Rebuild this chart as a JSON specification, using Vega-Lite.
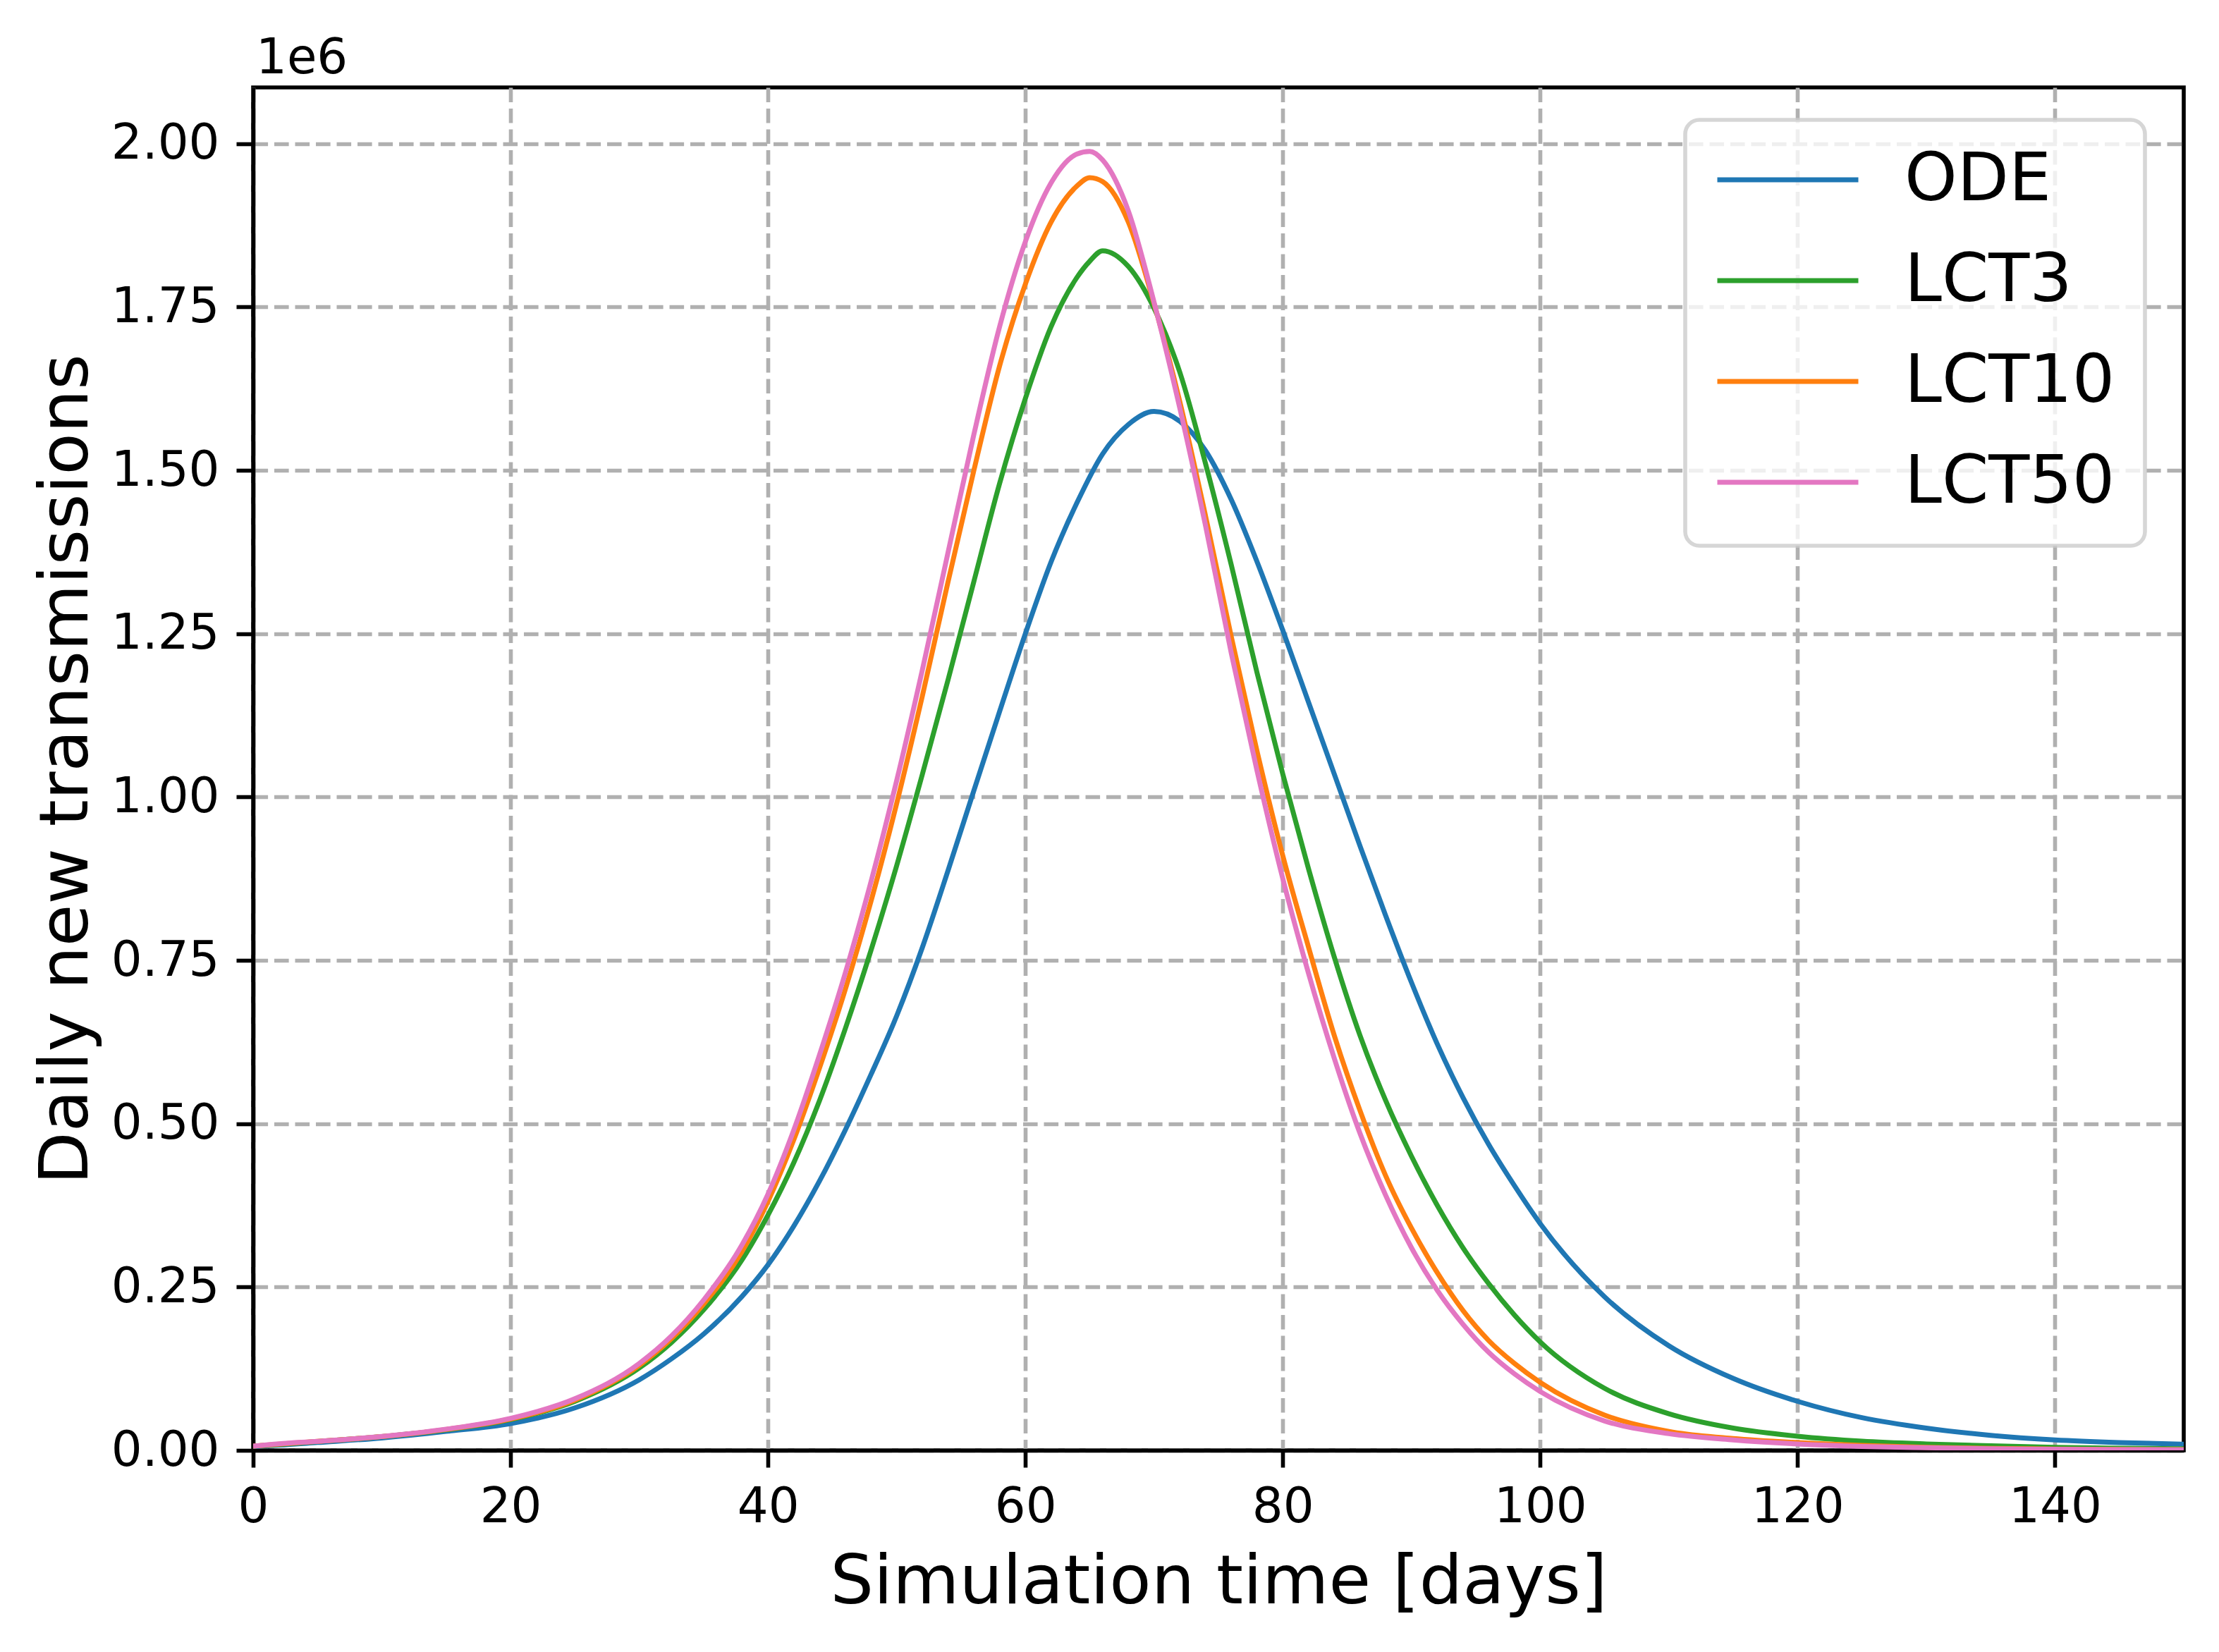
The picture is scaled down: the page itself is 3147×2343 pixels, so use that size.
{
  "$schema": "https://vega.github.io/schema/vega-lite/v6.json",
  "autosize": {"type": "none"},
  "padding": {"left": 359, "top": 124, "right": 50, "bottom": 286},
  "width": 2738,
  "height": 1933,
  "background": "white",
  "config": {
    "font": "DejaVu Sans",
    "view": {"stroke": "black", "strokeWidth": 5.6}
  },
  "title": {
    "text": "1e6",
    "anchor": "start",
    "frame": "group",
    "baseline": "alphabetic",
    "offset": 17,
    "dx": 4,
    "dy": 66,
    "fontSize": 69,
    "fontWeight": "normal",
    "color": "black"
  },
  "datasets": {
    "curves": [
      {"day": 0, "model": "ODE", "value": 6000}, {"day": 2, "model": "ODE", "value": 8000}, {"day": 5, "model": "ODE", "value": 12000}, {"day": 10, "model": "ODE", "value": 19000}, {"day": 15, "model": "ODE", "value": 29000}, {"day": 20, "model": "ODE", "value": 41000}, {"day": 25, "model": "ODE", "value": 65000}, {"day": 30, "model": "ODE", "value": 108000}, {"day": 32.5, "model": "ODE", "value": 140000}, {"day": 35, "model": "ODE", "value": 178000}, {"day": 38, "model": "ODE", "value": 236000}, {"day": 40, "model": "ODE", "value": 284000}, {"day": 42, "model": "ODE", "value": 343000}, {"day": 44, "model": "ODE", "value": 412000}, {"day": 46, "model": "ODE", "value": 490000}, {"day": 48, "model": "ODE", "value": 575000}, {"day": 50, "model": "ODE", "value": 665000}, {"day": 52, "model": "ODE", "value": 770000}, {"day": 54, "model": "ODE", "value": 888000}, {"day": 56, "model": "ODE", "value": 1010000}, {"day": 58, "model": "ODE", "value": 1131000}, {"day": 60, "model": "ODE", "value": 1250000}, {"day": 62, "model": "ODE", "value": 1360000}, {"day": 64, "model": "ODE", "value": 1450000}, {"day": 66, "model": "ODE", "value": 1525000}, {"day": 68, "model": "ODE", "value": 1570000}, {"day": 70, "model": "ODE", "value": 1590000}, {"day": 72, "model": "ODE", "value": 1575000}, {"day": 74, "model": "ODE", "value": 1530000}, {"day": 76, "model": "ODE", "value": 1455000}, {"day": 78, "model": "ODE", "value": 1360000}, {"day": 80, "model": "ODE", "value": 1255000}, {"day": 82, "model": "ODE", "value": 1145000}, {"day": 84, "model": "ODE", "value": 1035000}, {"day": 86, "model": "ODE", "value": 925000}, {"day": 88, "model": "ODE", "value": 818000}, {"day": 90, "model": "ODE", "value": 716000}, {"day": 92, "model": "ODE", "value": 622000}, {"day": 94, "model": "ODE", "value": 540000}, {"day": 96, "model": "ODE", "value": 468000}, {"day": 98, "model": "ODE", "value": 405000}, {"day": 100, "model": "ODE", "value": 347000}, {"day": 105, "model": "ODE", "value": 235000}, {"day": 110, "model": "ODE", "value": 160000}, {"day": 115, "model": "ODE", "value": 110000}, {"day": 120, "model": "ODE", "value": 75000}, {"day": 125, "model": "ODE", "value": 50000}, {"day": 130, "model": "ODE", "value": 34000}, {"day": 135, "model": "ODE", "value": 23000}, {"day": 140, "model": "ODE", "value": 16000}, {"day": 145, "model": "ODE", "value": 12000}, {"day": 150, "model": "ODE", "value": 9500},
      {"day": 0, "model": "LCT3", "value": 6500}, {"day": 2, "model": "LCT3", "value": 9000}, {"day": 5, "model": "LCT3", "value": 13500}, {"day": 10, "model": "LCT3", "value": 21000}, {"day": 15, "model": "LCT3", "value": 31500}, {"day": 20, "model": "LCT3", "value": 47000}, {"day": 25, "model": "LCT3", "value": 75000}, {"day": 30, "model": "LCT3", "value": 126000}, {"day": 32.5, "model": "LCT3", "value": 165000}, {"day": 35, "model": "LCT3", "value": 215000}, {"day": 38, "model": "LCT3", "value": 292000}, {"day": 40, "model": "LCT3", "value": 360000}, {"day": 42, "model": "LCT3", "value": 440000}, {"day": 44, "model": "LCT3", "value": 535000}, {"day": 46, "model": "LCT3", "value": 645000}, {"day": 48, "model": "LCT3", "value": 765000}, {"day": 50, "model": "LCT3", "value": 895000}, {"day": 52, "model": "LCT3", "value": 1035000}, {"day": 54, "model": "LCT3", "value": 1180000}, {"day": 56, "model": "LCT3", "value": 1330000}, {"day": 58, "model": "LCT3", "value": 1480000}, {"day": 60, "model": "LCT3", "value": 1610000}, {"day": 62, "model": "LCT3", "value": 1720000}, {"day": 64, "model": "LCT3", "value": 1795000}, {"day": 65, "model": "LCT3", "value": 1820000}, {"day": 66, "model": "LCT3", "value": 1836000}, {"day": 68, "model": "LCT3", "value": 1812000}, {"day": 70, "model": "LCT3", "value": 1748000}, {"day": 72, "model": "LCT3", "value": 1650000}, {"day": 74, "model": "LCT3", "value": 1510000}, {"day": 76, "model": "LCT3", "value": 1355000}, {"day": 78, "model": "LCT3", "value": 1190000}, {"day": 80, "model": "LCT3", "value": 1035000}, {"day": 82, "model": "LCT3", "value": 890000}, {"day": 84, "model": "LCT3", "value": 755000}, {"day": 86, "model": "LCT3", "value": 635000}, {"day": 88, "model": "LCT3", "value": 535000}, {"day": 90, "model": "LCT3", "value": 450000}, {"day": 92, "model": "LCT3", "value": 375000}, {"day": 94, "model": "LCT3", "value": 310000}, {"day": 96, "model": "LCT3", "value": 255000}, {"day": 98, "model": "LCT3", "value": 207000}, {"day": 100, "model": "LCT3", "value": 166000}, {"day": 105, "model": "LCT3", "value": 95000}, {"day": 110, "model": "LCT3", "value": 56000}, {"day": 115, "model": "LCT3", "value": 34000}, {"day": 120, "model": "LCT3", "value": 21600}, {"day": 125, "model": "LCT3", "value": 14000}, {"day": 130, "model": "LCT3", "value": 9800}, {"day": 135, "model": "LCT3", "value": 7000}, {"day": 140, "model": "LCT3", "value": 4700}, {"day": 145, "model": "LCT3", "value": 3300}, {"day": 150, "model": "LCT3", "value": 2400},
      {"day": 0, "model": "LCT10", "value": 6500}, {"day": 2, "model": "LCT10", "value": 9500}, {"day": 5, "model": "LCT10", "value": 13700}, {"day": 10, "model": "LCT10", "value": 21000}, {"day": 15, "model": "LCT10", "value": 32000}, {"day": 20, "model": "LCT10", "value": 48000}, {"day": 25, "model": "LCT10", "value": 77000}, {"day": 30, "model": "LCT10", "value": 130000}, {"day": 32.5, "model": "LCT10", "value": 171000}, {"day": 35, "model": "LCT10", "value": 224000}, {"day": 38, "model": "LCT10", "value": 305000}, {"day": 40, "model": "LCT10", "value": 381000}, {"day": 42, "model": "LCT10", "value": 475000}, {"day": 44, "model": "LCT10", "value": 585000}, {"day": 46, "model": "LCT10", "value": 705000}, {"day": 48, "model": "LCT10", "value": 840000}, {"day": 50, "model": "LCT10", "value": 990000}, {"day": 52, "model": "LCT10", "value": 1155000}, {"day": 54, "model": "LCT10", "value": 1330000}, {"day": 56, "model": "LCT10", "value": 1500000}, {"day": 58, "model": "LCT10", "value": 1660000}, {"day": 60, "model": "LCT10", "value": 1785000}, {"day": 62, "model": "LCT10", "value": 1880000}, {"day": 64, "model": "LCT10", "value": 1935000}, {"day": 65, "model": "LCT10", "value": 1948000}, {"day": 66, "model": "LCT10", "value": 1942000}, {"day": 68, "model": "LCT10", "value": 1880000}, {"day": 70, "model": "LCT10", "value": 1755000}, {"day": 72, "model": "LCT10", "value": 1605000}, {"day": 74, "model": "LCT10", "value": 1430000}, {"day": 76, "model": "LCT10", "value": 1245000}, {"day": 78, "model": "LCT10", "value": 1070000}, {"day": 80, "model": "LCT10", "value": 910000}, {"day": 82, "model": "LCT10", "value": 770000}, {"day": 84, "model": "LCT10", "value": 635000}, {"day": 86, "model": "LCT10", "value": 520000}, {"day": 88, "model": "LCT10", "value": 420000}, {"day": 90, "model": "LCT10", "value": 340000}, {"day": 92, "model": "LCT10", "value": 272000}, {"day": 94, "model": "LCT10", "value": 214000}, {"day": 96, "model": "LCT10", "value": 168000}, {"day": 98, "model": "LCT10", "value": 133000}, {"day": 100, "model": "LCT10", "value": 104000}, {"day": 105, "model": "LCT10", "value": 54000}, {"day": 110, "model": "LCT10", "value": 29000}, {"day": 115, "model": "LCT10", "value": 18000}, {"day": 120, "model": "LCT10", "value": 11800}, {"day": 125, "model": "LCT10", "value": 7500}, {"day": 130, "model": "LCT10", "value": 4700}, {"day": 135, "model": "LCT10", "value": 3000}, {"day": 140, "model": "LCT10", "value": 2000}, {"day": 145, "model": "LCT10", "value": 1400}, {"day": 150, "model": "LCT10", "value": 1000},
      {"day": 0, "model": "LCT50", "value": 6500}, {"day": 2, "model": "LCT50", "value": 10000}, {"day": 5, "model": "LCT50", "value": 13800}, {"day": 10, "model": "LCT50", "value": 21300}, {"day": 15, "model": "LCT50", "value": 32500}, {"day": 20, "model": "LCT50", "value": 49000}, {"day": 25, "model": "LCT50", "value": 79000}, {"day": 30, "model": "LCT50", "value": 133000}, {"day": 32.5, "model": "LCT50", "value": 175000}, {"day": 35, "model": "LCT50", "value": 230000}, {"day": 38, "model": "LCT50", "value": 315000}, {"day": 40, "model": "LCT50", "value": 392000}, {"day": 42, "model": "LCT50", "value": 490000}, {"day": 44, "model": "LCT50", "value": 605000}, {"day": 46, "model": "LCT50", "value": 730000}, {"day": 48, "model": "LCT50", "value": 870000}, {"day": 50, "model": "LCT50", "value": 1025000}, {"day": 52, "model": "LCT50", "value": 1195000}, {"day": 54, "model": "LCT50", "value": 1375000}, {"day": 56, "model": "LCT50", "value": 1555000}, {"day": 58, "model": "LCT50", "value": 1720000}, {"day": 60, "model": "LCT50", "value": 1850000}, {"day": 62, "model": "LCT50", "value": 1940000}, {"day": 64, "model": "LCT50", "value": 1984000}, {"day": 65, "model": "LCT50", "value": 1988000}, {"day": 66, "model": "LCT50", "value": 1975000}, {"day": 68, "model": "LCT50", "value": 1897000}, {"day": 70, "model": "LCT50", "value": 1757000}, {"day": 72, "model": "LCT50", "value": 1595000}, {"day": 74, "model": "LCT50", "value": 1415000}, {"day": 76, "model": "LCT50", "value": 1220000}, {"day": 78, "model": "LCT50", "value": 1040000}, {"day": 80, "model": "LCT50", "value": 875000}, {"day": 82, "model": "LCT50", "value": 730000}, {"day": 84, "model": "LCT50", "value": 600000}, {"day": 86, "model": "LCT50", "value": 485000}, {"day": 88, "model": "LCT50", "value": 390000}, {"day": 90, "model": "LCT50", "value": 310000}, {"day": 92, "model": "LCT50", "value": 245000}, {"day": 94, "model": "LCT50", "value": 193000}, {"day": 96, "model": "LCT50", "value": 150000}, {"day": 98, "model": "LCT50", "value": 117000}, {"day": 100, "model": "LCT50", "value": 90000}, {"day": 105, "model": "LCT50", "value": 45000}, {"day": 110, "model": "LCT50", "value": 25500}, {"day": 115, "model": "LCT50", "value": 16000}, {"day": 120, "model": "LCT50", "value": 9800}, {"day": 125, "model": "LCT50", "value": 6000}, {"day": 130, "model": "LCT50", "value": 4000}, {"day": 135, "model": "LCT50", "value": 2500}, {"day": 140, "model": "LCT50", "value": 1700}, {"day": 145, "model": "LCT50", "value": 1200}, {"day": 150, "model": "LCT50", "value": 800}
    ]
  },
  "data": {"name": "curves"},
  "mark": {"type": "line", "strokeWidth": 7, "interpolate": "monotone", "clip": true},
  "encoding": {
    "x": {
      "field": "day",
      "type": "quantitative",
      "scale": {"domain": [0, 150], "nice": false, "zero": false},
      "axis": {
        "title": "Simulation time [days]",
        "values": [0, 20, 40, 60, 80, 100, 120, 140],
        "format": "d",
        "labelFontSize": 69,
        "labelColor": "black",
        "labelPadding": 22,
        "labelFlush": false,
        "labelOverlap": false,
        "tickColor": "black",
        "tickWidth": 5.6,
        "tickSize": 24,
        "domainColor": "black",
        "domainWidth": 5.6,
        "grid": true,
        "gridColor": "#b0b0b0",
        "gridWidth": 5.6,
        "gridDash": [20.6, 8.9],
        "titleFontSize": 97,
        "titleFontWeight": "normal",
        "titleColor": "black",
        "titleBaseline": "alphabetic",
        "titleY": 216
      }
    },
    "y": {
      "field": "value",
      "type": "quantitative",
      "scale": {"domain": [0, 2086000], "nice": false},
      "axis": {
        "title": "Daily new transmissions",
        "values": [0, 250000, 500000, 750000, 1000000, 1250000, 1500000, 1750000, 2000000],
        "labelExpr": "format(datum.value / 1000000, '.2f')",
        "labelFontSize": 69,
        "labelColor": "black",
        "labelPadding": 24,
        "labelFlush": false,
        "labelOverlap": false,
        "tickColor": "black",
        "tickWidth": 5.6,
        "tickSize": 24,
        "domainColor": "black",
        "domainWidth": 5.6,
        "grid": true,
        "gridColor": "#b0b0b0",
        "gridWidth": 5.6,
        "gridDash": [20.6, 8.9],
        "titleFontSize": 97,
        "titleFontWeight": "normal",
        "titleColor": "black",
        "titleBaseline": "alphabetic",
        "titleX": -236
      }
    },
    "color": {
      "field": "model",
      "type": "nominal",
      "scale": {
        "domain": ["ODE", "LCT3", "LCT10", "LCT50"],
        "range": ["#1f77b4", "#2ca02c", "#ff7f0e", "#e377c2"]
      },
      "legend": {
        "title": null,
        "orient": "none",
        "legendX": 2031,
        "legendY": 46,
        "padding": 42,
        "fillColor": "rgba(255,255,255,0.8)",
        "strokeColor": "rgba(204,204,204,0.8)",
        "cornerRadius": 20,
        "symbolType": "stroke",
        "symbolSize": 40000,
        "symbolStrokeWidth": 7,
        "labelFontSize": 95,
        "labelColor": "black",
        "labelOffset": 62,
        "labelLimit": 1000,
        "clipHeight": 86,
        "rowPadding": 48,
        "encode": {
          "legend": {"update": {"strokeWidth": {"value": 5.6}}}
        }
      }
    }
  }
}
